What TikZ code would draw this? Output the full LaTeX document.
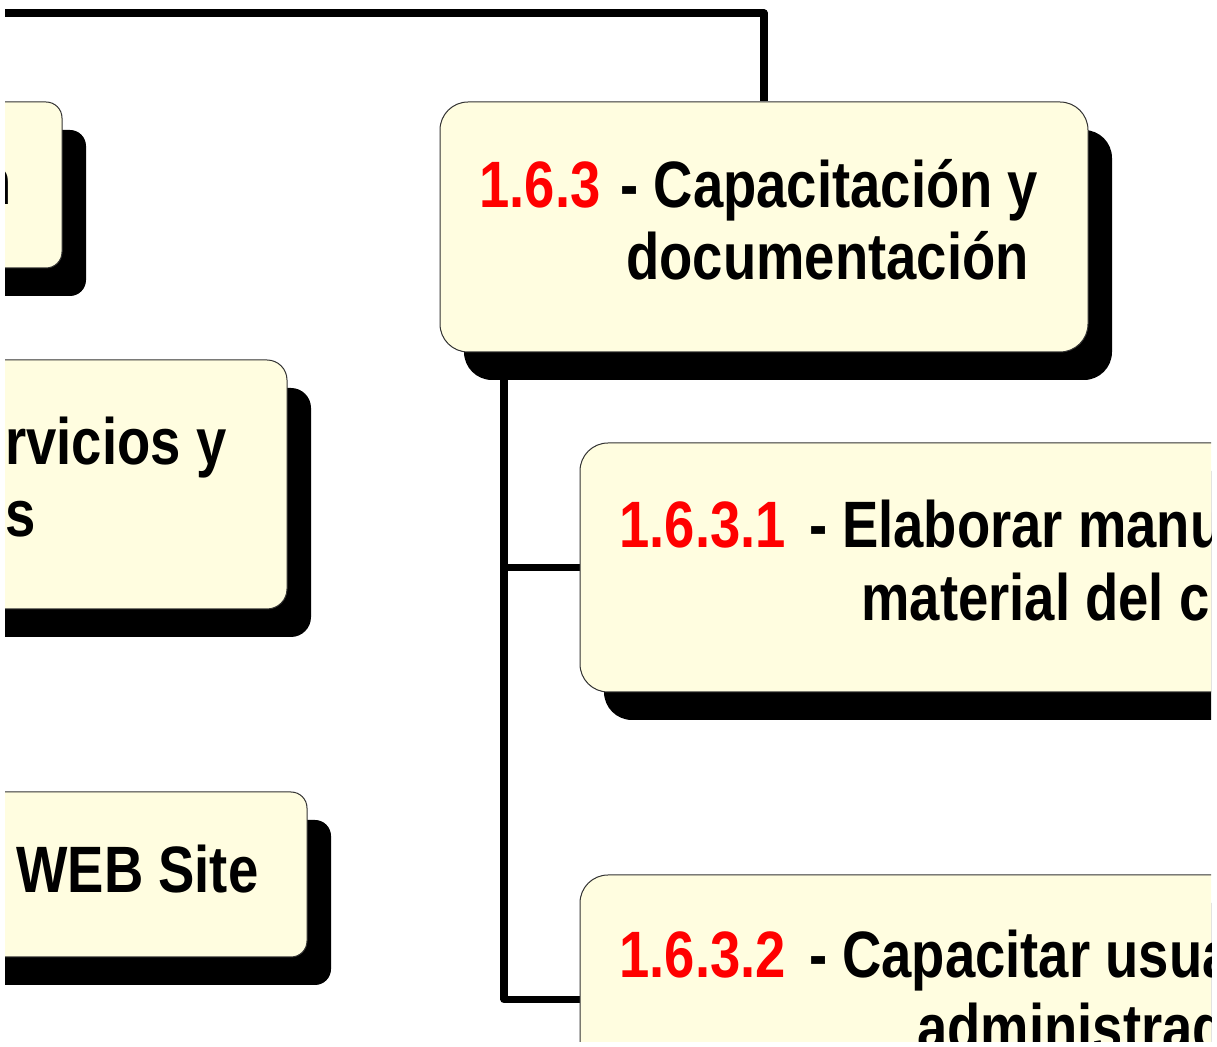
\documentclass[tikz,border=0pt]{standalone}
\usepackage{fontspec}
\setmainfont{Liberation Sans}[FakeStretch=0.83]
\usepackage{xcolor}
\usetikzlibrary{positioning}
\usetikzlibrary{shadows}
\usetikzlibrary{backgrounds}
\definecolor{boxfill}{HTML}{FFFDE0}

\begin{document}
\begin{tikzpicture}[x=0.5pt, y=-0.5pt,
    task/.style={draw=black!80, line width=0.5pt, fill=boxfill, rectangle,
rounded corners=14pt, inner sep=0pt,
drop shadow={shadow xshift=12pt, shadow yshift=-14pt, fill=black, opacity=1}},
    tasktext/.style={font=\fontsize{32.8pt}{36.25pt}\selectfont\bfseries,
align=left, inner sep=0pt, anchor=base west},
    link/.style={line width=3.6pt, line join=round}]
\useasboundingbox (0,0) rectangle (1217,1047);
\clip (5,0) rectangle (1211,1042);

\node[task, rounded corners=8pt, minimum width=200pt, minimum height=83pt] (inst) at (-138,185) {};
\node[task, rounded corners=10pt, minimum width=280pt, minimum height=124.5pt] (serv) at (7,484.5) {};
\node[task, rounded corners=8pt, minimum width=280pt, minimum height=82.5pt] (web) at (27,874.5) {};
\node[task, minimum width=324pt, minimum height=125pt] (cap) at (764,227) {};
\node[task, minimum width=350pt, minimum height=124.5pt] (man) at (930,567.5) {};
\node[task, minimum width=350pt, minimum height=124.5pt] (usr) at (930,999.5) {};

% base anchor sits on the last line
\node[tasktext] (instt) at (-22,205) {n};
\node[tasktext] (servt) at (5,537) {rvicios y\\s};
\node[tasktext] (webt) at (16,893) {WEB Site};
\node[tasktext] (capt) at (479,280) {\textcolor{red}{1.6.3}\hspace*{2.5pt} - Capacitación y\\\hspace*{73.5pt}documentación};
\node[tasktext] (mant) at (619,620.5) {\textcolor{red}{1.6.3.1}\hspace*{4pt} - Elaborar manu\\\hspace*{121pt}material del cu};
\node[tasktext] (usrt) at (619,1050.5) {\textcolor{red}{1.6.3.2}\hspace*{4pt} - Capacitar usua\\\hspace*{149pt}administrad};

\coordinate (parent) at (0,13);
\coordinate (spine) at (504,352);
\begin{scope}[on background layer]
\clip (5,0) rectangle (1211,1042);
\draw[link] (parent) -| (cap.north);
\draw[link] (spine) |- (man.west);
\draw[link] (spine) |- (usr.west);
\end{scope}
\end{tikzpicture}
\end{document}
